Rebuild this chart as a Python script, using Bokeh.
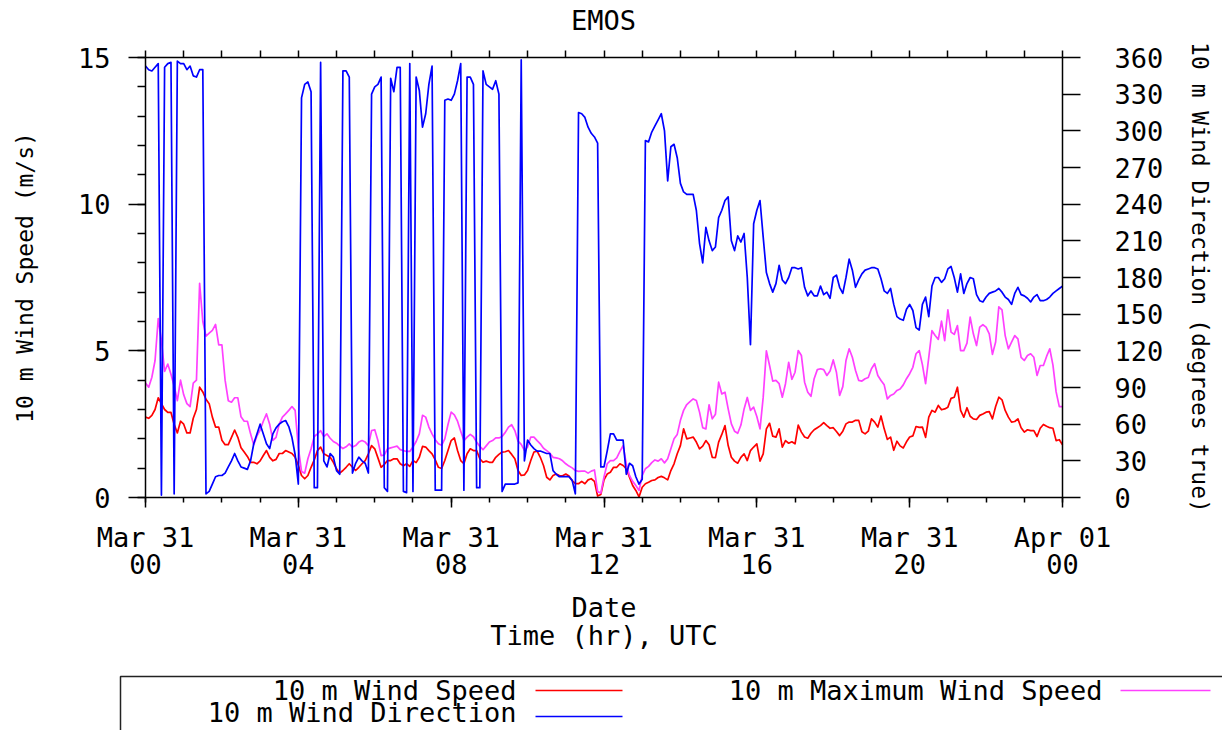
from bokeh.plotting import figure
from bokeh.models import Range1d, LinearAxis, FixedTicker, ColumnDataSource
from bokeh.embed import file_html
from bokeh.resources import INLINE
from bokeh.core.properties import value

# Sample times, minutes after Mar 31 00 UTC (5-minute steps)
minutes = list(range(0, 1441, 5))

# 10 m wind speed (m/s), one row per 4 hours
wind_speed = [
    2.74, 2.7, 2.8, 3.0, 3.4, 3.2, 3.0, 2.9, 2.9, 2.5, 2.2, 2.6, 2.5, 2.2, 2.2, 2.7, 3.0, 3.76, 3.6, 3.35, 3.2, 2.74, 2.4, 2.4,
    1.95, 1.8, 1.8, 2.05, 2.3, 2.05, 1.7, 1.55, 1.4, 1.2, 1.2, 1.15, 1.25, 1.43, 1.6, 1.37, 1.25, 1.3, 1.5, 1.5, 1.6, 1.55, 1.5, 1.37,
    1.1, 0.75, 0.64, 0.75, 1.03, 1.28, 1.6, 1.72, 1.49, 1.43, 1.37, 1.2, 0.98, 0.83, 0.92, 1.03, 1.15, 1.03, 0.92, 1.03, 1.15, 1.26, 1.49, 1.77,
    1.66, 1.35, 1.03, 1.13, 1.26, 1.26, 1.32, 1.32, 1.15, 1.08, 1.15, 1.06, 1.26, 1.19, 1.37, 1.74, 1.72, 1.6, 1.49, 1.28, 1.03, 0.99, 1.26, 1.6,
    1.94, 2.03, 1.6, 1.26, 1.15, 1.49, 1.66, 1.6, 1.6, 1.32, 1.2, 1.24, 1.2, 1.2, 1.37, 1.47, 1.55, 1.56, 1.6, 1.47, 1.32, 0.92, 0.75, 0.77,
    0.92, 1.26, 1.55, 1.58, 1.37, 1.09, 0.69, 0.6, 0.75, 0.8, 0.75, 0.74, 0.8, 0.73, 0.58, 0.47, 0.47, 0.55, 0.47, 0.6, 0.64, 0.55, 0.05, 0.1,
    0.6, 0.8, 0.86, 1.03, 1.03, 1.15, 1.09, 0.98, 0.69, 0.41, 0.24, 0.02, 0.35, 0.47, 0.52, 0.58, 0.6, 0.68, 0.72, 0.67, 0.6, 0.92, 1.15, 1.49,
    1.77, 2.34, 2.0, 2.03, 2.06, 1.89, 1.66, 1.75, 1.94, 1.8, 1.37, 1.36, 1.89, 2.15, 2.45, 1.77, 1.37, 1.24, 1.17, 1.37, 1.49, 1.26, 1.6, 1.72,
    1.83, 1.24, 1.49, 2.34, 2.53, 2.09, 2.06, 2.34, 1.72, 1.94, 1.85, 1.9, 1.83, 2.47, 2.23, 2.06, 2.02, 2.19, 2.31, 2.38, 2.45, 2.55, 2.45, 2.36,
    2.38, 2.25, 2.11, 2.26, 2.51, 2.57, 2.57, 2.63, 2.63, 2.24, 2.17, 2.26, 2.68, 2.57, 2.4, 2.78, 2.34, 1.98, 2.06, 1.61, 1.92, 1.76, 1.69, 1.9,
    2.06, 2.1, 2.42, 2.39, 2.4, 2.05, 2.74, 2.97, 2.91, 3.14, 2.99, 3.02, 3.08, 3.38, 3.42, 3.76, 2.97, 2.74, 3.06, 2.77, 2.68, 2.66, 2.8, 2.85,
    2.91, 2.93, 2.68, 3.1, 3.42, 3.33, 2.97, 2.74, 2.57, 2.59, 2.68, 2.38, 2.23, 2.31, 2.28, 2.28, 2.08, 2.36, 2.49, 2.43, 2.38, 2.36, 1.94, 1.97,
    1.8,
]

# 10 m maximum wind speed (m/s)
max_wind_speed = [
    3.9, 3.76, 4.1, 4.67, 6.1, 5.35, 4.3, 4.55, 4.2, 3.8, 3.3, 4.0, 3.5, 3.2, 3.1, 3.9, 4.0, 7.3, 6.0, 5.5, 5.6, 5.7, 5.9, 5.2,
    5.2, 4.0, 3.3, 3.25, 3.4, 3.4, 2.75, 2.6, 2.6, 2.17, 1.8, 2.1, 2.3, 2.6, 2.85, 2.5, 1.95, 2.05, 2.5, 2.74, 2.85, 2.97, 3.1, 2.97,
    1.7, 0.89, 0.83, 1.32, 1.66, 2.08, 2.17, 2.28, 2.08, 2.17, 2.02, 1.91, 1.85, 1.75, 1.67, 1.73, 1.83, 1.72, 1.77, 1.89, 1.94, 1.89, 1.77, 2.28,
    2.31, 1.94, 1.43, 1.45, 1.66, 1.69, 1.72, 1.75, 1.63, 1.6, 1.57, 1.57, 1.72, 1.91, 2.17, 2.8, 2.74, 2.4, 2.17, 1.97, 1.83, 1.78, 2.0, 2.49,
    2.91, 2.82, 2.6, 2.26, 1.94, 2.06, 2.15, 2.07, 1.89, 1.74, 1.63, 1.76, 1.89, 1.94, 2.03, 2.03, 2.08, 2.22, 2.4, 2.48, 2.28, 1.92, 1.81, 1.61,
    1.72, 2.06, 2.06, 1.94, 1.83, 1.68, 1.6, 1.51, 1.37, 1.35, 1.32, 1.25, 1.15, 1.07, 1.01, 0.92, 0.89, 0.9, 0.9, 0.83, 0.9, 0.94, 0.2, 0.15,
    0.7, 1.15, 1.26, 1.26, 1.35, 1.57, 1.77, 1.15, 0.75, 0.55, 0.41, 0.24, 0.75, 0.98, 1.06, 1.19, 1.28, 1.24, 1.32, 1.18, 1.32, 1.66, 2.0, 2.15,
    2.63, 2.97, 3.17, 3.27, 3.36, 3.31, 2.91, 2.38, 2.34, 3.16, 2.68, 2.84, 3.93, 3.53, 3.59, 3.02, 2.51, 2.26, 2.19, 2.47, 3.02, 3.41, 2.97, 3.08,
    2.76, 2.34, 3.42, 5.0, 4.5, 3.97, 3.99, 3.88, 3.42, 3.88, 4.61, 4.03, 4.27, 5.01, 4.84, 3.93, 3.59, 3.45, 4.05, 4.36, 4.39, 4.36, 4.16, 4.31,
    4.69, 4.27, 3.48, 3.78, 4.67, 5.07, 4.78, 4.33, 3.99, 3.97, 4.05, 4.09, 4.39, 4.56, 4.16, 3.99, 3.84, 3.36, 3.48, 3.53, 3.65, 3.7, 3.84, 4.05,
    4.22, 4.44, 4.9, 5.01, 4.53, 3.88, 4.78, 5.69, 5.52, 5.39, 6.01, 5.35, 6.4, 5.64, 5.56, 5.86, 5.01, 5.01, 5.26, 6.15, 5.58, 5.18, 5.81, 5.89,
    5.81, 5.58, 4.88, 5.3, 6.5, 6.4, 5.52, 5.07, 5.3, 5.52, 5.41, 4.78, 4.67, 4.84, 4.9, 4.78, 4.16, 4.5, 4.5, 4.81, 5.07, 4.51, 3.6, 3.1,
    3.1,
]

# 10 m wind direction (degrees true)
wind_direction = [
    353, 350, 349, 352, 355, 2, 352, 355, 356, 3, 357, 355, 355, 350, 353, 345, 344, 350, 350, 3, 5, 11, 17, 18,
    18, 20, 25, 30, 36, 30, 25, 24, 23, 30, 44, 52, 60, 52, 44, 40, 52, 57, 60, 62, 63, 58, 49, 35,
    11, 327, 338, 340, 332, 8, 8, 356, 30, 25, 36, 33, 22, 19, 349, 349, 344, 20, 28, 33, 30, 28, 20, 330,
    336, 338, 344, 8, 5, 343, 332, 352, 352, 5, 4, 355, 5, 344, 333, 303, 314, 338, 353, 6, 6, 6, 325, 326,
    325, 330, 341, 355, 6, 344, 344, 338, 8, 8, 349, 338, 336, 334, 341, 330, 5, 11, 11, 11, 11, 12, 358, 30,
    47, 43, 40, 38, 38, 37, 36, 36, 22, 19, 17, 17, 17, 17, 14, 3, 315, 314, 311, 303, 298, 295, 290, 25,
    25, 38, 52, 52, 47, 47, 47, 19, 28, 26, 17, 11, 15, 292, 291, 299, 304, 309, 314, 300, 259, 287, 289, 278,
    257, 250, 248, 248, 248, 235, 208, 192, 221, 210, 202, 205, 229, 235, 243, 246, 210, 202, 214, 209, 216, 180, 125, 224,
    235, 243, 213, 184, 175, 168, 175, 190, 178, 175, 180, 188, 188, 187, 188, 172, 165, 169, 165, 165, 173, 166, 168, 163,
    180, 182, 172, 167, 180, 195, 186, 172, 178, 183, 186, 187, 188, 188, 187, 179, 169, 167, 171, 158, 148, 146, 145, 154,
    158, 153, 139, 137, 158, 164, 148, 173, 180, 180, 176, 179, 187, 189, 180, 168, 183, 167, 175, 180, 179, 166, 161, 160,
    164, 167, 168, 169, 171, 168, 164, 162, 158, 167, 172, 166, 165, 163, 160, 164, 166, 161, 161, 162, 164, 167, 169, 171,
    173,
]

# Axis ticks and labels
time_ticks = [0, 240, 480, 720, 960, 1200, 1440]
time_labels = ["Mar 31\n00", "Mar 31\n04", "Mar 31\n08", "Mar 31\n12", "Mar 31\n16", "Mar 31\n20", "Apr 01\n00"]
hour_ticks = list(range(0, 1441, 60))
speed_ticks = [0, 5, 10, 15]
speed_minor_ticks = list(range(0, 16))
direction_ticks = [0, 30, 60, 90, 120, 150, 180, 210, 240, 270, 300, 330, 360]

legend_names = ["10 m Wind Speed", "10 m Maximum Wind Speed", "10 m Wind Direction"]
colors = ["#ff0000", "#ff40ff", "#0000ff"]

T_MAX, SPD_MAX, DIR_MAX = 1440, 15, 360

FONT = "DejaVu Sans Mono"
BIG = "27px"
SMALL = "23px"
INK = "black"
LW = 1.7

# Page layout (pixels): the canvas is the frame, the plot box sits inside it
W, H = 1222, 730
BOX_L, BOX_R, BOX_T, BOX_B = 145, 1062, 57, 497
x_per_px = T_MAX / (BOX_R - BOX_L)
s_per_px = SPD_MAX / (BOX_B - BOX_T)
d_per_px = DIR_MAX / (BOX_B - BOX_T)
x0 = -BOX_L * x_per_px
s_top = SPD_MAX + BOX_T * s_per_px


def px_x(px):
    return x0 + px * x_per_px


def px_y(py):
    return s_top - py * s_per_px


src = ColumnDataSource(dict(t=minutes, spd=wind_speed, gust=max_wind_speed, dir=wind_direction))

p = figure(width=W, height=H,
           x_range=Range1d(x0, x0 + W * x_per_px),
           y_range=Range1d(s_top - H * s_per_px, s_top),
           output_backend="svg", toolbar_location=None,
           x_axis_location=None, y_axis_location=None, min_border=0)
p.extra_y_ranges = {"dir": Range1d(-(H - BOX_B) * d_per_px, DIR_MAX + BOX_T * d_per_px)}
p.grid.visible = False
p.outline_line_color = None
p.background_fill_color = "white"
p.border_fill_color = "white"


def style_axis(ax):
    ax.axis_line_color = INK
    ax.axis_line_width = 1.5
    ax.major_tick_line_color = INK
    ax.major_tick_line_width = 1.5
    ax.minor_tick_line_color = INK
    ax.minor_tick_line_width = 1.5
    ax.major_tick_in = 0
    ax.minor_tick_in = 0
    ax.major_label_text_font = FONT
    ax.major_label_text_font_size = BIG
    ax.major_label_text_color = INK
    ax.axis_label_text_font = FONT
    ax.axis_label_text_font_style = "normal"
    ax.axis_label_text_color = INK


left = LinearAxis(ticker=FixedTicker(ticks=speed_ticks, minor_ticks=speed_minor_ticks),
                  fixed_location=0, bounds=(0, SPD_MAX),
                  axis_label="10 m Wind Speed (m/s)")
style_axis(left)
left.major_tick_out = 17
left.minor_tick_out = 8
left.major_label_standoff = 18
left.axis_label_text_font_size = SMALL
left.axis_label_standoff = 37
p.add_layout(left, "left")

right = LinearAxis(y_range_name="dir", ticker=FixedTicker(ticks=direction_ticks, minor_ticks=[]),
                   fixed_location=T_MAX, bounds=(0, DIR_MAX),
                   axis_label="10 m Wind Direction (degrees true)")
style_axis(right)
right.major_tick_out = 18
right.minor_tick_out = 0
right.major_label_standoff = 34
right.axis_label_text_font_size = SMALL
right.axis_label_standoff = 21
p.add_layout(right, "right")

bottom = LinearAxis(ticker=FixedTicker(ticks=time_ticks, minor_ticks=hour_ticks),
                    fixed_location=0, bounds=(0, T_MAX),
                    major_label_overrides={t: lab for t, lab in zip(time_ticks, time_labels)},
                    axis_label="Date\nTime (hr), UTC")
style_axis(bottom)
bottom.major_tick_out = 10
bottom.minor_tick_out = 5
bottom.major_label_standoff = 14
bottom.major_label_text_line_height = 0.9
bottom.axis_label_text_font_size = BIG
bottom.axis_label_text_line_height = 0.9
bottom.axis_label_standoff = 9
p.add_layout(bottom, "below")

top = LinearAxis(ticker=FixedTicker(ticks=hour_ticks, minor_ticks=[]),
                 fixed_location=SPD_MAX, bounds=(0, T_MAX),
                 major_label_overrides={t: "" for t in hour_ticks})
style_axis(top)
top.major_tick_out = 7
top.major_label_standoff = 0
p.add_layout(top, "above")

p.line("t", "spd", source=src, color=colors[0], line_width=LW, line_join="round")
p.line("t", "gust", source=src, color=colors[1], line_width=LW, line_join="round")
p.line("t", "dir", source=src, y_range_name="dir", color=colors[2], line_width=LW, line_join="round")

# Title
p.text(x=[px_x(603)], y=[px_y(20)], text=["EMOS"], text_align="center", text_baseline="middle",
       text_font=value(FONT), text_font_size=BIG, text_color=INK)

# Legend panel below the axis caption
p.line(x=[px_x(120), px_x(120), px_x(W + 10)], y=[px_y(H + 10), px_y(676), px_y(676)],
       color="#222222", line_width=1.5)
legend_text_x = [516, 1102, 516]
legend_text_y = [690, 690, 712]
swatch_x0 = [535, 1120, 535]
swatch_x1 = [622, 1210, 622]
swatch_y = [690, 690, 716]
p.text(x=[px_x(v) for v in legend_text_x], y=[px_y(v) for v in legend_text_y], text=legend_names,
       text_align="right", text_baseline="middle",
       text_font=value(FONT), text_font_size=BIG, text_color=INK)
p.segment(x0=[px_x(v) for v in swatch_x0], y0=[px_y(v) for v in swatch_y],
          x1=[px_x(v) for v in swatch_x1], y1=[px_y(v) for v in swatch_y],
          color=colors, line_width=LW)

open("out.html", "w").write(file_html(p, INLINE))
